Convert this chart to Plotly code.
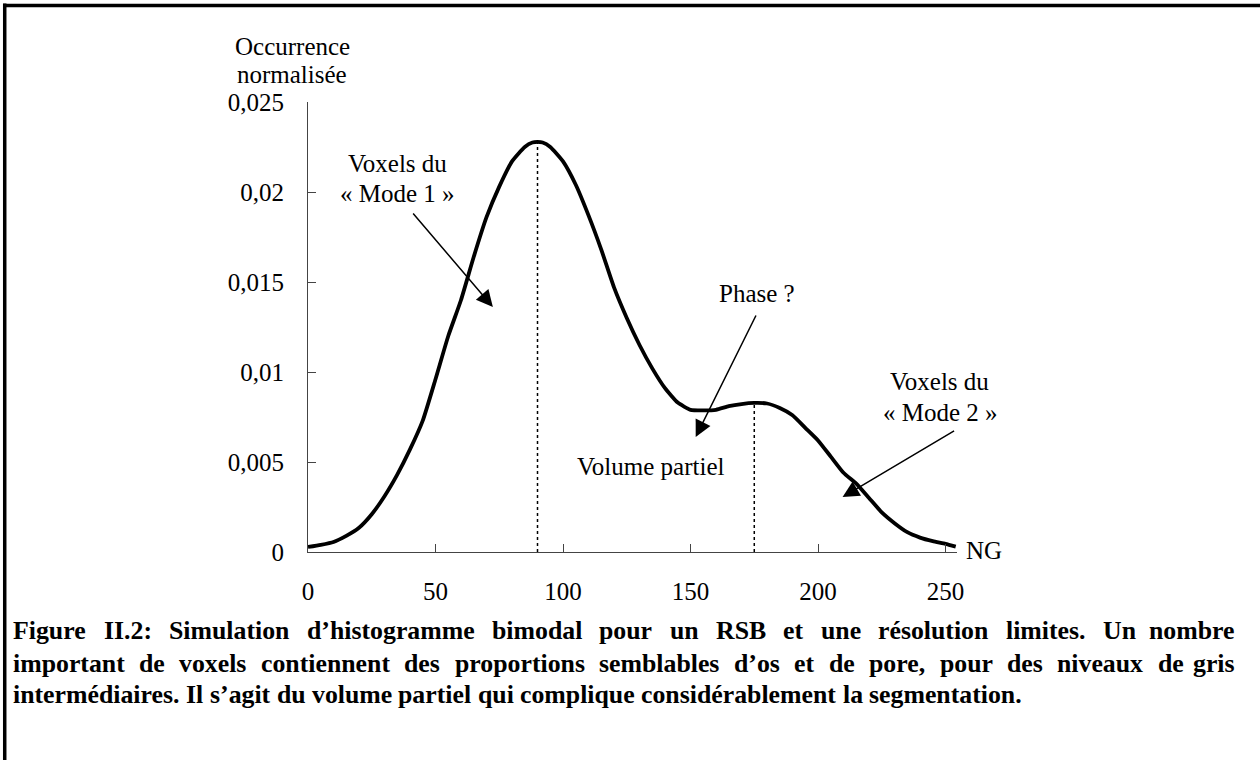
import plotly.graph_objects as go

# ---------------- data ----------------
ng = [0, 5, 10, 15, 20, 25, 30, 35, 40, 45, 50, 55, 60, 65, 70, 75, 80, 85, 88, 90,
      92, 95, 100, 105, 110, 115, 120, 125, 130, 135, 140, 145, 150, 155, 160, 165,
      170, 175, 180, 185, 190, 195, 200, 205, 210, 215, 220, 225, 230, 235, 240,
      245, 250, 254]
occurrence = [0.00028, 0.00040, 0.00056, 0.00090, 0.00135, 0.0021, 0.0031, 0.0043,
              0.0057, 0.0073, 0.0096, 0.0120, 0.0140, 0.0164, 0.0186, 0.0203, 0.0217,
              0.0225, 0.02275, 0.02278, 0.02275, 0.02250, 0.0217, 0.0204, 0.0187, 0.0168,
              0.0147, 0.0130, 0.0115, 0.0102, 0.0091, 0.0083, 0.0079, 0.00787, 0.0079,
              0.0081, 0.00822, 0.00828, 0.00825, 0.0080, 0.0076, 0.0069, 0.0062, 0.0053,
              0.0044, 0.0038, 0.0030, 0.0022, 0.0016, 0.0011, 0.0008, 0.0006, 0.00045,
              0.0003]

y_tick_vals = [0, 0.005, 0.01, 0.015, 0.02, 0.025]
y_tick_text = ["0", "0,005", "0,01", "0,015", "0,02", "0,025"]
x_tick_vals = [0, 50, 100, 150, 200, 250]
x_tick_text = ["0", "50", "100", "150", "200", "250"]

y_title_lines = ["Occurrence", "normalisée"]
x_title = "NG"
mode1_lines = ["Voxels du", "« Mode 1 »"]
mode2_lines = ["Voxels du", "« Mode 2 »"]
phase_label = "Phase ?"
partial_label = "Volume partiel"

caption_lines = [
    "Figure II.2: Simulation d’histogramme bimodal pour un RSB et une résolution limites. Un nombre",
    "important de voxels contiennent des proportions semblables d’os et de pore, pour des niveaux de gris",
    "intermédiaires. Il s’agit du volume partiel qui complique considérablement la segmentation.",
]
caption_justified = [True, True, False]

# ---------------- layout helpers ----------------
W, H = 1260, 760
X_MAX = 254.5
L_PX, T_PX, B_PX = 308, 102, 552
R_PX = L_PX + X_MAX * 2.552
FONT = "Liberation Serif, Times New Roman, serif"


def pxx(px):
    return (px - L_PX) / (R_PX - L_PX)


def pxy(py):
    return (B_PX - py) / (B_PX - T_PX)


fig = go.Figure()

fig.add_trace(go.Scatter(x=ng, y=occurrence, mode="lines",
                         line=dict(color="black", width=3.8, shape="spline", smoothing=0.5),
                         hoverinfo="skip", showlegend=False))

# dotted verticals at the two modes
i1 = max(range(len(ng)), key=lambda i: occurrence[i])
cand = [i for i in range(len(ng)) if ng[i] > 160]
i2 = max(cand, key=lambda i: occurrence[i])
for i in (i1, i2):
    fig.add_trace(go.Scatter(x=[ng[i], ng[i]], y=[0, occurrence[i]], mode="lines",
                             line=dict(color="black", width=1.5, dash="dot"),
                             hoverinfo="skip", showlegend=False))

ann = []


def txt(s, px, py, size=25, xanchor="center", bold=False):
    ann.append(dict(text=("<b>%s</b>" % s) if bold else s, x=pxx(px), y=pxy(py),
                    xref="paper", yref="paper", xanchor=xanchor, yanchor="middle",
                    showarrow=False, font=dict(family=FONT, size=size, color="black")))


def arrow(hx, hy, tx, ty):
    ann.append(dict(text="", x=pxx(hx), y=pxy(hy), xref="paper", yref="paper",
                    ax=tx - hx, ay=ty - hy, showarrow=True, arrowhead=2,
                    arrowsize=2.2, arrowwidth=1.5, arrowcolor="black", standoff=0))


txt(y_title_lines[0], 292, 47)
txt(y_title_lines[1], 292, 75)
txt(mode1_lines[0], 398, 163)
txt(mode1_lines[1], 398, 193)
txt(phase_label, 757, 293)
txt(partial_label, 651, 466)
txt(mode2_lines[0], 940, 381)
txt(mode2_lines[1], 941, 412)
txt(x_title, 964, 550, xanchor="left")

arrow(493, 307, 412, 212)
arrow(696, 437, 757, 314)
arrow(843, 497, 956, 430)

# caption (justified by word placement)
WID = {' ': 250, 'a': 500, 'b': 556, 'c': 444, 'd': 556, 'e': 444, 'f': 333, 'g': 500,
       'h': 556, 'i': 278, 'j': 333, 'k': 556, 'l': 278, 'm': 833, 'n': 556, 'o': 500,
       'p': 556, 'q': 556, 'r': 444, 's': 389, 't': 333, 'u': 556, 'v': 500, 'w': 722,
       'x': 500, 'y': 500, 'z': 444, 'F': 611, 'I': 389, 'R': 722, 'S': 556, 'B': 667,
       'U': 722, '.': 250, ':': 333, ',': 250, '’': 333, 'é': 444, '2': 500}
CAP_SIZE = 25.8
CAP_L, CAP_R = 11, 1238
cap_y = [630, 663, 694]


def wwidth(w):
    return sum(WID.get(c, 500) for c in w) * CAP_SIZE / 1000.0


for line, just, py in zip(caption_lines, caption_justified, cap_y):
    words = line.split(" ")
    widths = [wwidth(w) for w in words]
    if just:
        gap = (CAP_R - CAP_L - sum(widths)) / (len(words) - 1)
    else:
        gap = WID[' '] * CAP_SIZE / 1000.0
    x = CAP_L
    for k, (w, wd) in enumerate(zip(words, widths)):
        if just and k == len(words) - 1:
            txt(w, CAP_R, py, size=CAP_SIZE, xanchor="right", bold=True)
        else:
            txt(w, x, py, size=CAP_SIZE, xanchor="left", bold=True)
        x += wd + gap

# frame
shapes = [
    dict(type="line", xref="paper", yref="paper", x0=pxx(4.5), x1=pxx(4.5),
         y0=pxy(3.5), y1=pxy(762), line=dict(color="black", width=3.5)),
    dict(type="line", xref="paper", yref="paper", x0=pxx(3), x1=pxx(1262),
         y0=pxy(5.5), y1=pxy(5.5), line=dict(color="black", width=3.5)),
]

axis_common = dict(showline=True, linecolor="#444444", linewidth=1.2, ticks="inside",
                   ticklen=8, tickcolor="#444444", tickwidth=1.2, showgrid=False,
                   zeroline=False, tickfont=dict(family=FONT, size=25, color="black"))

fig.update_layout(
    width=W, height=H, autosize=False,
    margin=dict(l=L_PX, r=W - R_PX, t=T_PX, b=H - B_PX, pad=0),
    paper_bgcolor="white", plot_bgcolor="white",
    xaxis=dict(range=[0, X_MAX], tickvals=x_tick_vals, ticktext=x_tick_text,
               ticklabelstandoff=17, **axis_common),
    yaxis=dict(range=[0, 0.025], tickvals=y_tick_vals, ticktext=y_tick_text,
               ticklabelstandoff=18, **axis_common),
    annotations=ann, shapes=shapes, showlegend=False,
)

fig.write_html("out.html", config={"displayModeBar": False},
               post_script="document.body.style.margin='0';document.body.style.overflow='hidden';")
